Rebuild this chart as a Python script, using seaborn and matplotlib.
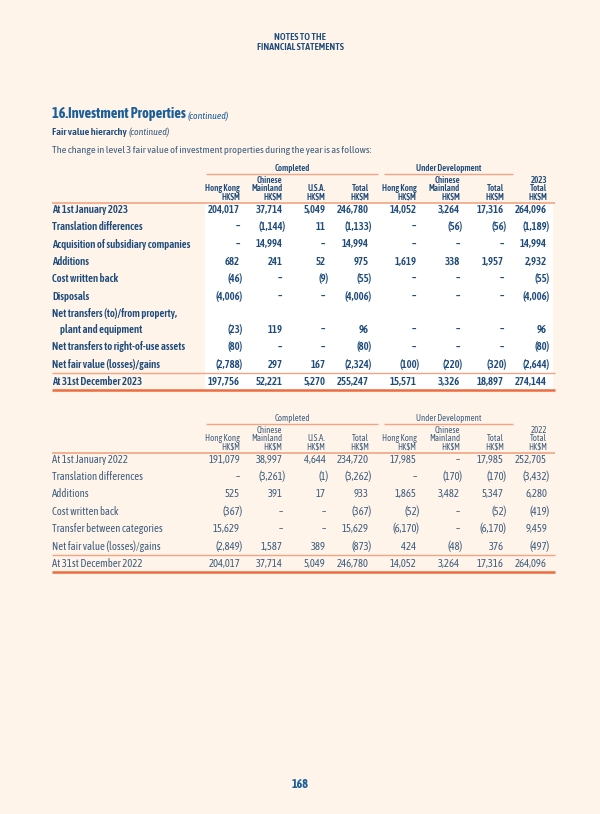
import matplotlib
matplotlib.use("Agg")
import matplotlib.pyplot as plt
import seaborn as sns

# ---------------- data ----------------
page_header = ["NOTES TO THE", "FINANCIAL STATEMENTS"]
section_title = "16.Investment Properties"
section_note = "(continued)"
sub_title = "Fair value hierarchy"
intro_text = "The change in level 3 fair value of investment properties during the year is as follows:"
page_number = "168"

group_labels = ["Completed", "Under Development"]

col_headers_2023 = ["Hong Kong\nHK$M", "Chinese\nMainland\nHK$M", "U.S.A.\nHK$M", "Total\nHK$M",
                    "Hong Kong\nHK$M", "Chinese\nMainland\nHK$M", "Total\nHK$M", "2023\nTotal\nHK$M"]
col_headers_2022 = ["Hong Kong\nHK$M", "Chinese\nMainland\nHK$M", "U.S.A.\nHK$M", "Total\nHK$M",
                    "Hong Kong\nHK$M", "Chinese\nMainland\nHK$M", "Total\nHK$M", "2022\nTotal\nHK$M"]

row_labels_2023 = ["At 1st January 2023",
                   "Translation differences",
                   "Acquisition of subsidiary companies",
                   "Additions",
                   "Cost written back",
                   "Disposals",
                   "Net transfers (to)/from property,\nplant and equipment",
                   "Net transfers to right-of-use assets",
                   "Net fair value (losses)/gains",
                   "At 31st December 2023"]
values_2023 = [
    [204017, 37714, 5049, 246780, 14052, 3264, 17316, 264096],
    [None, -1144, 11, -1133, None, -56, -56, -1189],
    [None, 14994, None, 14994, None, None, None, 14994],
    [682, 241, 52, 975, 1619, 338, 1957, 2932],
    [-46, None, -9, -55, None, None, None, -55],
    [-4006, None, None, -4006, None, None, None, -4006],
    [-23, 119, None, 96, None, None, None, 96],
    [-80, None, None, -80, None, None, None, -80],
    [-2788, 297, 167, -2324, -100, -220, -320, -2644],
    [197756, 52221, 5270, 255247, 15571, 3326, 18897, 274144],
]

row_labels_2022 = ["At 1st January 2022",
                   "Translation differences",
                   "Additions",
                   "Cost written back",
                   "Transfer between categories",
                   "Net fair value (losses)/gains",
                   "At 31st December 2022"]
values_2022 = [
    [191079, 38997, 4644, 234720, 17985, None, 17985, 252705],
    [None, -3261, -1, -3262, None, -170, -170, -3432],
    [525, 391, 17, 933, 1865, 3482, 5347, 6280],
    [-367, None, None, -367, -52, None, -52, -419],
    [15629, None, None, 15629, -6170, None, -6170, 9459],
    [-2849, 1587, 389, -873, 424, -48, 376, -497],
    [204017, 37714, 5049, 246780, 14052, 3264, 17316, 264096],
]

# ---------------- style ----------------
BG = "#FEF4EA"
NAVY = "#1E4B7B"
NAVY_LIGHT = "#3F5E7E"
TITLE_BLUE = "#1D5F98"
SALMON = "#F3A583"
ORANGE = "#EC6C40"

sns.set_theme(style="white")
plt.rcParams["font.family"] = ["Asap Condensed", "Roboto Condensed", "DejaVu Sans"]

fig = plt.figure(figsize=(6.0, 8.14), dpi=100, facecolor=BG)
ax = fig.add_axes([0, 0, 1, 1])
ax.set_facecolor(BG)
ax.set_xlim(0, 600)
ax.set_ylim(814, 0)
ax.set_axis_off()
sns.despine(ax=ax, left=True, bottom=True)

LEFT = 52
RIGHT = 555
col_x = [240, 282.5, 325.5, 369, 416.5, 460, 504, 547]
group_spans = [(206, 378), (384, 513)]
PAREN = 3.0
CAP = 3.7
ROW_FS = 7.7
HDR_FS = 6.3


def fmt(v):
    if v is None:
        return "\u2013"
    if v < 0:
        return "({:,})".format(-v)
    return "{:,}".format(v)


def put_value(x, y, v, weight, color):
    s = fmt(v)
    xx = x + PAREN if (v is not None and v < 0) else x
    ax.text(xx, y + CAP, s, ha="right", va="baseline", fontsize=ROW_FS,
            fontweight=weight, color=color)


def draw_table(y0, headers, labels, values, weight, color, highlight):
    for (x0, x1), g in zip(group_spans, group_labels):
        ax.text((x0 + x1) / 2, y0 + 2.8, g, ha="center", va="baseline",
                fontsize=HDR_FS, fontweight=weight, color=color)
        ax.plot([x0, x1], [y0 + 5.5, y0 + 5.5], color=SALMON, lw=1.0,
                solid_capstyle="butt")
    for x, h in zip(col_x, headers):
        lines = h.split("\n")
        for k, ln in enumerate(reversed(lines)):
            ax.text(x, y0 + 31 - 8 * k, ln, ha="right", va="baseline",
                    fontsize=HDR_FS, fontweight=weight, color=color)
    hdr_line = y0 + 34.5
    ax.plot([LEFT, RIGHT], [hdr_line, hdr_line], color=SALMON, lw=1.2,
            solid_capstyle="butt")
    y = y0 + 41
    step = 17.4
    ys = []
    for lab in labels:
        parts = lab.split("\n")
        for k, p in enumerate(parts):
            ax.text(LEFT + (8 if k else 0), y + 16 * k + CAP, p,
                    ha="left", va="baseline", fontsize=ROW_FS, fontweight=weight,
                    color=color)
        ys.append(y + 16 * (len(parts) - 1))
        y = ys[-1] + step
    last = ys[-1]
    prev = ys[-2]
    mid = (last + prev) / 2 + 0.2
    bottom = last + 8.8
    if highlight:
        ax.add_patch(plt.Rectangle((205, hdr_line + 0.6), 348, bottom - hdr_line - 0.6,
                                   facecolor="white", edgecolor="none", zorder=0))
    ax.plot([LEFT, RIGHT], [mid, mid], color=SALMON, lw=1.0, solid_capstyle="butt")
    ax.plot([LEFT, RIGHT], [bottom, bottom], color=ORANGE, lw=1.8, solid_capstyle="butt")
    for yy, row in zip(ys, values):
        for x, v in zip(col_x, row):
            put_value(x, yy, v, weight, color)


# page header
ax.text(300, 40, page_header[0], ha="center", va="baseline", fontsize=7.0,
        fontweight=600, color=NAVY)
ax.text(300, 50.5, page_header[1], ha="center", va="baseline", fontsize=7.0,
        fontweight=600, color=NAVY)

# titles
t = ax.text(LEFT, 118, section_title, ha="left", va="baseline", fontsize=10.4,
            fontweight="bold", color=TITLE_BLUE)
ax.annotate(section_note, xy=(1, 0), xycoords=t, xytext=(1.5, 0),
            textcoords="offset points", ha="left", va="bottom", fontsize=7.0,
            fontstyle="italic", color=TITLE_BLUE)
s = ax.text(LEFT, 135, sub_title, ha="left", va="baseline", fontsize=7.4,
            fontweight=600, color=NAVY)
ax.annotate(section_note, xy=(1, 0), xycoords=s, xytext=(1.2, 0),
            textcoords="offset points", ha="left", va="bottom", fontsize=7.0,
            fontstyle="italic", color=NAVY_LIGHT)
ax.text(LEFT, 153, intro_text, ha="left", va="baseline", fontsize=7.5,
        color=NAVY_LIGHT)

draw_table(168, col_headers_2023, row_labels_2023, values_2023, 600, NAVY, True)
draw_table(418, col_headers_2022, row_labels_2022, values_2022, "normal", NAVY_LIGHT, False)

ax.text(300, 788, page_number, ha="center", va="baseline", fontsize=8.6,
        fontweight="bold", color=TITLE_BLUE)

fig.savefig("out.png", dpi=100, facecolor=BG)
